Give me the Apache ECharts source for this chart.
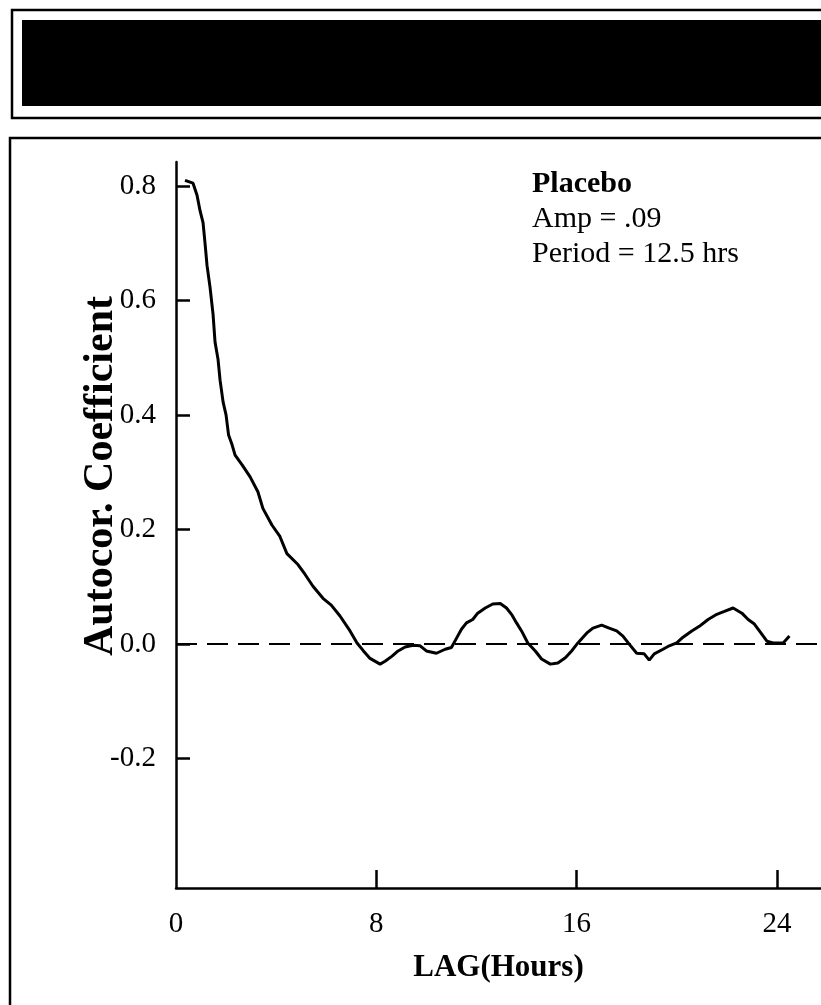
<!DOCTYPE html>
<html>
<head>
<meta charset="utf-8">
<script src="https://cdn.jsdelivr.net/npm/echarts@6/dist/echarts.min.js"></script>
<style>
  html, body { margin: 0; padding: 0; background: #fff; }
  #chart { width: 821px; height: 1005px; }
</style>
</head>
<body>
<div id="chart"></div>
<script>
// lag in hours and autocorrelation coefficient
var lagHours = [0.36, 0.68, 0.84, 0.96, 1.08, 1.16, 1.24, 1.36, 1.48, 1.56, 1.68, 1.76, 1.88, 2.0, 2.1, 2.24, 2.36, 2.64, 2.96, 3.27,
  3.47, 3.83, 4.15, 4.43, 4.87, 5.15, 5.47, 5.87, 6.2, 6.55, 6.95, 7.23, 7.47, 7.75, 8.15, 8.35, 8.63, 8.87, 9.15, 9.47,
  9.75, 10.0, 10.4, 10.75, 11.0, 11.2, 11.4, 11.6, 11.85, 12.05, 12.35, 12.65, 12.95, 13.2, 13.4, 13.6, 13.8, 14.05, 14.35, 14.6,
  14.95, 15.25, 15.55, 15.8, 16.05, 16.4, 16.65, 17.0, 17.3, 17.6, 17.85, 18.1, 18.4, 18.7, 18.9, 19.1, 19.45, 19.7, 20.0, 20.25,
  20.6, 20.9, 21.25, 21.6, 21.9, 22.25, 22.6, 22.85, 23.1, 23.3, 23.6, 23.85, 24.25, 24.5];
var autocorr = [0.81, 0.805, 0.784, 0.757, 0.736, 0.70, 0.661, 0.623, 0.576, 0.527, 0.497, 0.461, 0.423, 0.40, 0.365, 0.348, 0.33, 0.313, 0.292, 0.266,
  0.237, 0.208, 0.188, 0.158, 0.139, 0.122, 0.101, 0.08, 0.068, 0.049, 0.023, 0.002, -0.011, -0.025, -0.035, -0.03, -0.021, -0.012, -0.005, -0.002,
  -0.003, -0.012, -0.016, -0.009, -0.006, 0.01, 0.026, 0.037, 0.043, 0.054, 0.063, 0.07, 0.071, 0.063, 0.052, 0.037, 0.023, 0.002, -0.012, -0.026,
  -0.035, -0.033, -0.024, -0.012, 0.002, 0.019, 0.028, 0.033, 0.028, 0.023, 0.014, 0, -0.016, -0.017, -0.028, -0.017, -0.009, -0.003, 0.002, 0.012,
  0.023, 0.031, 0.043, 0.052, 0.057, 0.063, 0.054, 0.043, 0.035, 0.023, 0.005, 0.002, 0.002, 0.014];

var xLabels = [0, 8, 16, 24];
var xTicks = [8, 16, 24];
var yTicks = [-0.2, 0, 0.2, 0.4, 0.6, 0.8];
var noteLines = ['Placebo', 'Amp = .09', 'Period = 12.5 hrs'];

var serif = "'Liberation Serif', 'Times New Roman', serif";

var points = [];
for (var i = 0; i < lagHours.length; i++) {
  points.push([lagHours[i], autocorr[i]]);
}

var chart = echarts.init(document.getElementById('chart'));

var option = {
  backgroundColor: '#fff',
  animation: false,
  grid: {
    left: 176,
    right: 0,
    top: 162,
    bottom: 117
  },
  xAxis: {
    type: 'value',
    min: 0,
    max: 25.76,
    name: 'LAG(Hours)',
    nameLocation: 'middle',
    nameGap: 64,
    nameTextStyle: { fontFamily: serif, fontSize: 31, fontWeight: 'bold', color: '#000' },
    axisLine: { show: true, onZero: false, lineStyle: { color: '#000', width: 2.5 } },
    axisTick: { show: true, inside: true, length: 18, customValues: xTicks, lineStyle: { color: '#000', width: 2.5 } },
    axisLabel: { customValues: xLabels, fontFamily: serif, fontSize: 29, color: '#000', margin: 22 },
    splitLine: { show: false }
  },
  yAxis: {
    type: 'value',
    min: -0.426,
    max: 0.842,
    axisLine: { show: true, onZero: false, lineStyle: { color: '#000', width: 2.5 } },
    axisTick: { show: true, inside: true, length: 14, customValues: yTicks, lineStyle: { color: '#000', width: 2.5 } },
    axisLabel: {
      customValues: yTicks,
      fontFamily: serif, fontSize: 29, color: '#000', margin: 20,
      formatter: function (v) { return v.toFixed(1); }
    },
    splitLine: { show: false }
  },
  series: [{
    type: 'line',
    data: points,
    symbol: 'none',
    lineStyle: { color: '#000', width: 3 },
    markLine: {
      silent: true,
      symbol: 'none',
      label: { show: false },
      lineStyle: { color: '#000', width: 2, type: [21, 10] },
      data: [{ yAxis: 0 }]
    }
  }],
  graphic: [
    // banner at the top
    { type: 'rect', shape: { x: 12, y: 10, width: 840, height: 108 }, style: { fill: 'none', stroke: '#000', lineWidth: 2.5 } },
    { type: 'rect', shape: { x: 22, y: 20, width: 830, height: 86 }, style: { fill: '#000' } },
    // frame round the chart
    { type: 'rect', shape: { x: 10, y: 138, width: 840, height: 900 }, style: { fill: 'none', stroke: '#000', lineWidth: 2.5 } },
    {
      type: 'text', x: 101, y: 476, rotation: Math.PI / 2,
      style: { text: 'Autocor. Coefficient', fontFamily: serif, fontSize: 42, fontWeight: 'bold', fill: '#000', align: 'center', verticalAlign: 'middle' }
    },
    { type: 'text', x: 532, y: 184, style: { text: noteLines[0], fontFamily: serif, fontSize: 30, fontWeight: 'bold', fill: '#000', verticalAlign: 'middle' } },
    { type: 'text', x: 532, y: 219, style: { text: noteLines[1], fontFamily: serif, fontSize: 30, fill: '#000', verticalAlign: 'middle' } },
    { type: 'text', x: 532, y: 254, style: { text: noteLines[2], fontFamily: serif, fontSize: 30, fill: '#000', verticalAlign: 'middle' } }
  ]
};

chart.setOption(option);
</script>
</body>
</html>
